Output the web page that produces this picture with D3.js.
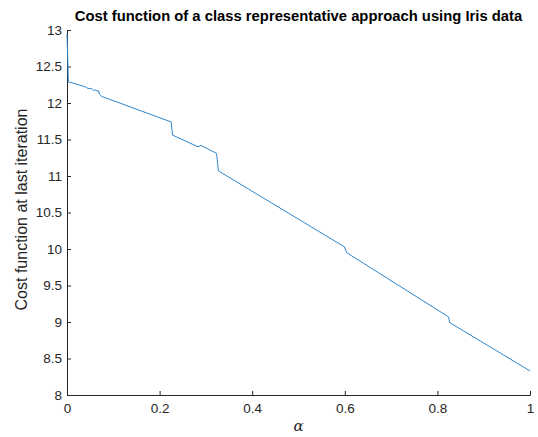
<!DOCTYPE html>
<html><head><meta charset="utf-8">
<script src="https://cdn.jsdelivr.net/npm/d3@7"></script>
<style>body{margin:0;background:#fff;} text{font-family:"Liberation Sans",Arial,sans-serif;}</style>
</head><body>
<svg id="chart" width="538" height="437"></svg>
<script>
const alphaVals = [0, 0.003, 0.02, 0.04, 0.045, 0.05, 0.055, 0.058, 0.062, 0.066, 0.068, 0.07, 0.075, 0.225, 0.228, 0.283, 0.289, 0.323, 0.327, 0.599, 0.604, 0.824, 0.827, 1];
const costVals  = [12.95, 12.29, 12.26, 12.22, 12.2, 12.2, 12.19, 12.17, 12.18, 12.16, 12.17, 12.12, 12.09, 11.74, 11.56, 11.40, 11.42, 11.31, 11.07, 10.03, 9.95, 9.07, 8.99, 8.33];
const xTicks = [0, 0.2, 0.4, 0.6, 0.8, 1];
const yTicks = [8, 8.5, 9, 9.5, 10, 10.5, 11, 11.5, 12, 12.5, 13];
const titleText = "Cost function of a class representative approach using Iris data";
const xLabel = "α";
const yLabel = "Cost function at last iteration";

const svg = d3.select("#chart");
const L = 67, R = 530, T = 30, B = 395;
const x = d3.scaleLinear().domain([0, 1]).range([L, R]);
const y = d3.scaleLinear().domain([8, 13]).range([B, T]);
const axisColor = "#262626";

const xAxis = svg.append("g").attr("transform", `translate(0,${B})`)
  .call(d3.axisBottom(x).tickValues(xTicks).tickSize(-4).tickPadding(8).tickFormat(d3.format("~g")));
const yAxis = svg.append("g").attr("transform", `translate(${L},0)`)
  .call(d3.axisLeft(y).tickValues(yTicks).tickSize(-4).tickPadding(5).tickFormat(d3.format("~g")));
[xAxis, yAxis].forEach(a => {
  a.select(".domain").attr("stroke", axisColor).attr("stroke-width", 1);
  a.selectAll(".tick line").attr("stroke", axisColor);
  a.selectAll(".tick text").attr("fill", axisColor).style("font-size", "13.5px")
   .style("font-family", "'Liberation Sans',Arial,sans-serif");
});

const pts = alphaVals.map((a, i) => [a, costVals[i]]);
svg.append("path").datum(pts)
  .attr("fill", "none").attr("stroke", "#2f86cc").attr("stroke-width", 1)
  .attr("d", d3.line().x(d => x(d[0])).y(d => y(d[1])));

svg.append("text").attr("x", (L + R) / 2).attr("y", 21).attr("text-anchor", "middle")
  .style("font-size", "14.8px").style("font-weight", "bold").attr("fill", "#000").text(titleText);
svg.append("text").attr("x", (L + R) / 2).attr("y", 431).attr("text-anchor", "middle")
  .style("font-size", "15px").style("font-style", "italic").style("font-family", "'DejaVu Serif',serif")
  .attr("fill", axisColor).text(xLabel);
svg.append("text").attr("transform", `translate(27,${(T + B) / 2 - 3}) rotate(-90)`)
  .attr("text-anchor", "middle").style("font-size", "16px").attr("fill", axisColor).text(yLabel);
</script>
</body></html>
